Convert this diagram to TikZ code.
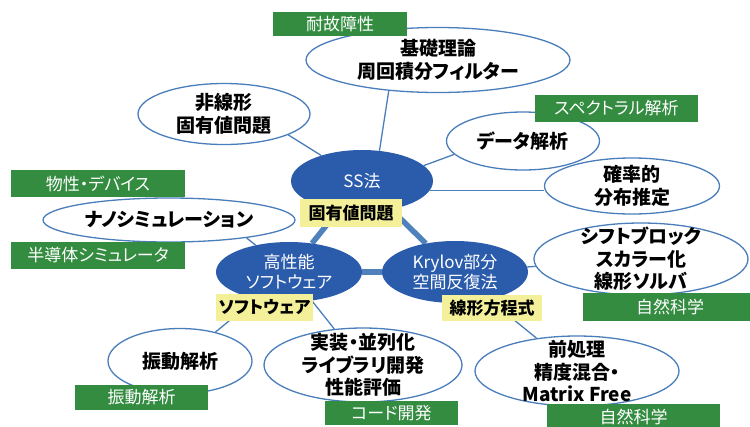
\documentclass[tikz,border=0pt]{standalone}
\usepackage{fontspec}
\setmainfont{Noto Sans CJK JP}[RawFeature=+palt]
\usetikzlibrary{shapes.geometric,backgrounds}
\definecolor{bluefill}{HTML}{2B5CAB}
\definecolor{edgeblue}{HTML}{4A7EBB}
\definecolor{thickblue}{HTML}{4F81BD}
\definecolor{labelgreen}{HTML}{338C40}
\definecolor{labelyellow}{HTML}{F4F09A}
\tikzset{
  topic/.style={ellipse, draw=edgeblue, line width=1.3pt, fill=white, inner sep=-20pt,
    align=center, font=\fontsize{19}{22.5}\selectfont\bfseries},
  core/.style={ellipse, fill=bluefill, inner sep=-20pt, align=center, text=white,
    font=\fontsize{17}{20}\selectfont},
  greentag/.style={rectangle, fill=labelgreen, text=white, inner sep=0pt,
    font=\fontsize{17}{20}\selectfont},
  yellowtag/.style={rectangle, fill=labelyellow, inner sep=0pt,
    font=\fontsize{17}{20}\selectfont\bfseries},
  link/.style={draw=edgeblue, line width=1.3pt},
  corelink/.style={draw=thickblue, line width=5.5pt},
}
\begin{document}
\begin{tikzpicture}[x=1pt,y=-1pt]
\useasboundingbox (0,0) rectangle (750,426);

% core nodes
\node[core, minimum width=142pt, minimum height=62pt] (ss) at (362,181) {SS法};
\node[core, minimum width=146pt, minimum height=60pt] (hp) at (289,272) {高性能\\ソフトウェア};
\node[core, minimum width=146pt, minimum height=62pt] (kr) at (455,272) {Krylov部分\\空間反復法};

% topic nodes
\node[topic, minimum width=172pt, minimum height=61pt] (n1) at (224,114) {非線形\\固有値問題};
\node[topic, minimum width=264pt, minimum height=65pt] (n2) at (438,60) {基礎理論\\周回積分フィルター};
\node[topic, minimum width=153pt, minimum height=58pt] (n3) at (523,141) {データ解析};
\node[topic, minimum width=175pt, minimum height=56pt] (n4) at (632,186) {確率的\\分布推定};
\node[topic, minimum width=252pt, minimum height=44pt] (n5) at (169,220) {ナノシミュレーション};
\node[topic, minimum width=144pt, minimum height=65pt] (n6) at (180,361) {振動解析};
\node[topic, minimum width=198pt, minimum height=74pt] (n7) at (363,365) {実装・並列化\\ライブラリ開発\\性能評価};
\node[topic, minimum width=214pt, minimum height=72pt] (n8) at (641,259) {シフトブロック\\スカラー化\\線形ソルバ};
\node[topic, minimum width=204pt, minimum height=70pt] (n9) at (577,371) {前処理\\精度混合・\\Matrix Free};

% yellow tags
\node[yellowtag, minimum width=102pt, minimum height=28pt] (y1) at (351,213) {固有値問題};
\node[yellowtag, minimum width=97pt, minimum height=27pt] (y2) at (264.5,307.5) {ソフトウェア};
\node[yellowtag, minimum width=100pt, minimum height=26pt] (y3) at (492,308) {線形方程式};

% green tags
\node[greentag, minimum width=134pt, minimum height=24pt] (g1) at (340,24) {耐故障性};
\node[greentag, minimum width=163pt, minimum height=27pt] (g2) at (616.5,108.5) {スペクトラル解析};
\node[greentag, minimum width=174pt, minimum height=27pt] (g3) at (98,183.5) {物性・デバイス};
\node[greentag, minimum width=174pt, minimum height=27pt] (g4) at (98,255.5) {半導体シミュレータ};
\node[greentag, minimum width=133pt, minimum height=25pt] (g5) at (141.5,397.5) {振動解析};
\node[greentag, minimum width=133pt, minimum height=24pt] (g6) at (391.5,413) {コード開発};
\node[greentag, minimum width=174pt, minimum height=28pt] (g7) at (670,307) {自然科学};
\node[greentag, minimum width=173pt, minimum height=26pt] (g8) at (633.5,417) {自然科学};

% connectors
\begin{pgfonlayer}{background}
\draw[corelink] (ss) -- (hp);
\draw[corelink] (ss) -- (kr);
\draw[corelink] (hp) -- (kr);
\draw[link] (ss) -- (n1.-18);
\draw[link] (ss.60) -- (n2.212);
\draw[link] (ss.14) -- (n3.191);
\draw[link] (ss.-8) -- (ss.-8 -| n4.west);
\draw[link] (hp) -- (n5.-13);
\draw[link] (hp) -- (n6);
\draw[link] (hp) -- (n7);
\draw[link] (kr) -- (n8);
\draw[link] (kr) -- (n9);
\end{pgfonlayer}
\end{tikzpicture}
\end{document}
